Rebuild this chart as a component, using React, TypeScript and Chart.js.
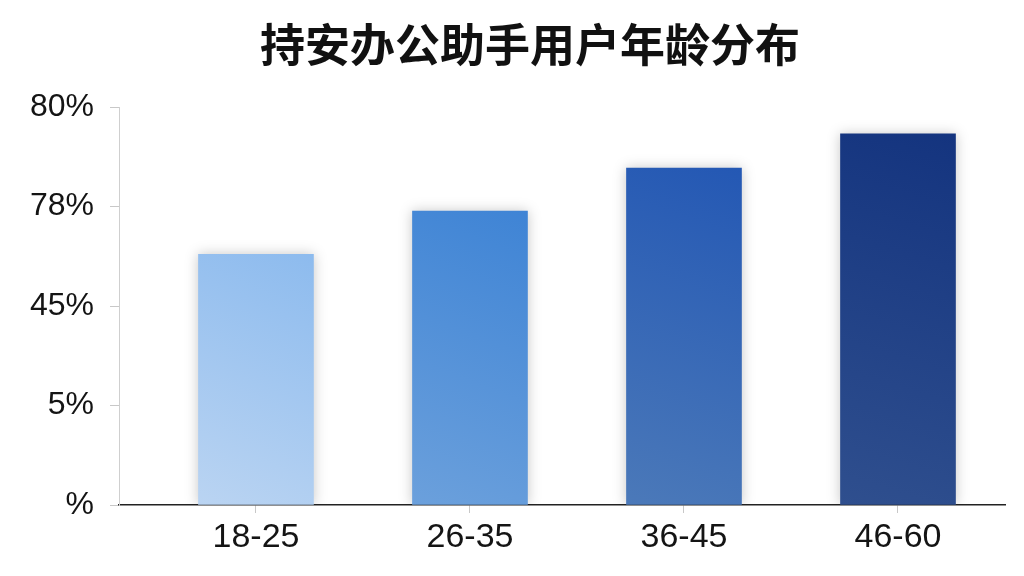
import React, { useEffect, useRef } from "react";
import { Chart, registerables } from "chart.js";

Chart.register(...registerables);

const categories = ["18-25", "26-35", "36-45", "46-60"];
const values = [2.52, 2.955, 3.387, 3.73];
const yTickLabels = ["%", "5%", "45%", "78%", "80%"];
const topColors = ["#8dbbee", "#3f84d5", "#2458b4", "#14347f"];
const bottomColors = ["#bad4f2", "#6ba0dc", "#4b79b9", "#2f4f8e"];
const titleText = "持安办公助手用户年龄分布";

const shadowPlugin = {
  id: "barShadow",
  beforeDatasetsDraw(chart: any) {
    const ctx = chart.ctx;
    ctx.save();
    ctx.shadowColor = "rgba(0,0,0,0.22)";
    ctx.shadowBlur = 12;
    ctx.shadowOffsetX = 0;
    ctx.shadowOffsetY = 0;
  },
  afterDatasetsDraw(chart: any) {
    chart.ctx.restore();
  },
};

const titlePlugin = {
  id: "topTitle",
  afterDraw(chart: any) {
    const ctx = chart.ctx;
    const area = chart.chartArea;
    ctx.save();
    ctx.font = "bold 45px 'Noto Sans CJK SC', sans-serif";
    ctx.fillStyle = "#111111";
    ctx.textAlign = "center";
    ctx.textBaseline = "middle";
    ctx.fillText(titleText, (area.left + area.right) / 2 - 32, 45);
    ctx.restore();
  },
};

export default function App() {
  const ref = useRef<HTMLCanvasElement | null>(null);

  useEffect(() => {
    if (!ref.current) return;
    const chart = new Chart(ref.current, {
      type: "bar",
      data: {
        datasets: [
          {
            data: categories.map((_, i) => ({ x: i, y: values[i] })),
            backgroundColor: (c: any) => {
              const chart = c.chart;
              const i = c.dataIndex;
              const xs = chart.scales?.x;
              const ys = chart.scales?.y;
              if (!chart.chartArea || !xs || !ys || i === undefined) return topColors[i ?? 0];
              const cx = xs.getPixelForValue(i);
              const top = ys.getPixelForValue(values[i]);
              const bottom = ys.getPixelForValue(0);
              const g = chart.ctx.createLinearGradient(cx + 57, top, cx - 57, bottom);
              g.addColorStop(0, topColors[i]);
              g.addColorStop(1, bottomColors[i]);
              return g;
            },
            borderWidth: 0,
            barThickness: 115,
          } as any,
        ],
      },
      options: {
        responsive: false,
        animation: false,
        layout: { padding: { left: 0, right: 19, top: 107, bottom: 0 } },
        plugins: {
          legend: { display: false },
          tooltip: { enabled: false },
          title: { display: false },
        },
        scales: {
          x: {
            type: "linear",
            offset: false,
            min: -0.64,
            max: 3.5,
            afterBuildTicks: (s: any) => {
              s.ticks = categories.map((_, i) => ({ value: i }));
            },
            afterFit: (s: any) => {
              s.height = 71;
            },
            ticks: {
              callback: (_v: any, idx: number) => categories[idx] ?? "",
              font: { family: "'Liberation Sans', Arial, sans-serif", size: 34 },
              color: "#141414",
              padding: 4,
              autoSkip: false,
              maxRotation: 0,
            },
            grid: { offset: false, drawOnChartArea: false, tickLength: 8, color: "#c8c8c8" },
            border: { color: "#222222", width: 1.5 },
          },
          y: {
            min: 0,
            max: 4,
            afterBuildTicks: (s: any) => {
              s.ticks = yTickLabels.map((_, i) => ({ value: i }));
            },
            afterFit: (s: any) => {
              s.width = 119;
            },
            ticks: {
              callback: (_v: any, idx: number) => yTickLabels[idx] ?? "",
              font: { family: "'Liberation Sans', Arial, sans-serif", size: 32 },
              color: "#141414",
              padding: 16,
            },
            grid: { drawOnChartArea: false, tickLength: 9, color: "#c8c8c8" },
            border: { color: "#cfcfcf", width: 1 },
          },
        },
      } as any,
      plugins: [shadowPlugin, titlePlugin],
    });
    return () => chart.destroy();
  }, []);

  return (
    <div style={{ position: "fixed", left: 0, top: 0, width: 1024, height: 576, background: "#ffffff" }}>
      <canvas ref={ref} width={1024} height={576} style={{ display: "block" }} />
    </div>
  );
}
